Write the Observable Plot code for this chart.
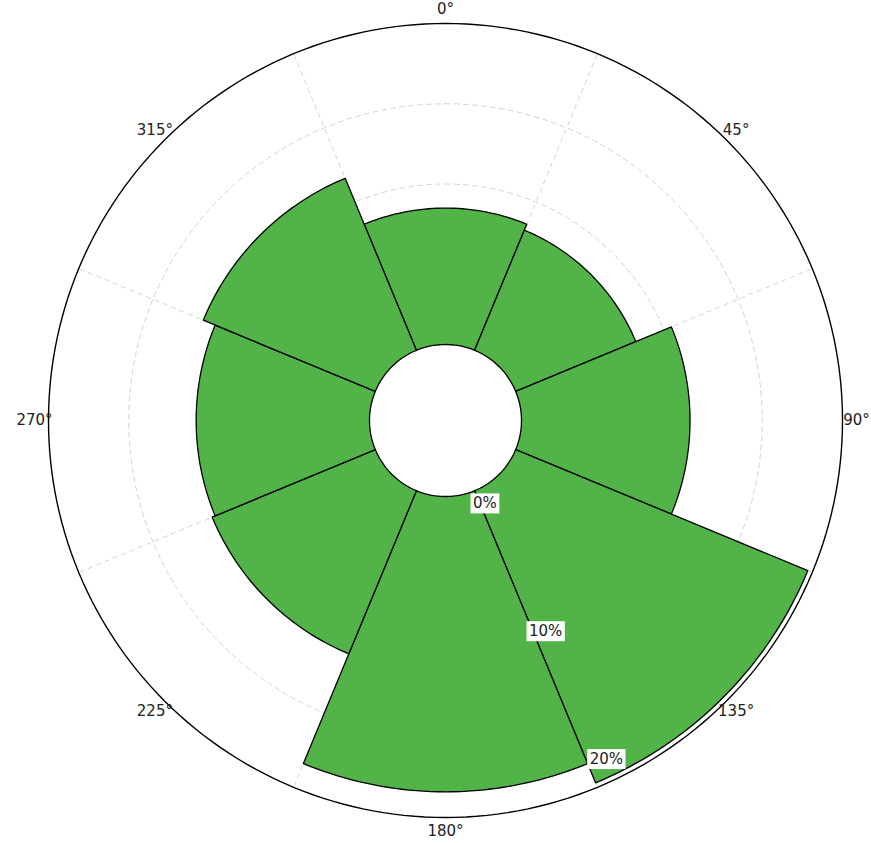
<!DOCTYPE html>
<html>
<head>
<meta charset="utf-8">
<script src="https://cdn.jsdelivr.net/npm/d3@7"></script>
<script src="https://cdn.jsdelivr.net/npm/@observablehq/plot@0.6"></script>
<style>
  html, body { margin: 0; padding: 0; background: #fff; }
  svg { display: block; }
</style>
</head>
<body>
<div id="chart"></div>
<script>
// ---- data ----
const directions = [0, 45, 90, 135, 180, 225, 270, 315];
const frequency = [8.5, 8.1, 10.5, 19.7, 18.4, 11.0, 10.8, 11.6]; // % per sector
const directionLabels = ["0°", "45°", "90°", "135°", "180°", "225°", "270°", "315°"];
const gridValues = [5, 10, 15];
const radialTickValues = [0, 10, 20];
const radialTickLabels = ["0%", "10%", "20%"];
const maxValue = 20;

// ---- geometry helpers (radius units: value + hole offset) ----
const HOLE = 4.735;          // empty centre, in % units
const OUTER = HOLE + maxValue;
const rad = a => a * Math.PI / 180;
const px = (r, a) => r * Math.sin(rad(a));
const py = (r, a) => r * Math.cos(rad(a));
const arc = (r, a0, a1, n, key) => d3.range(n + 1).map(k => {
  const a = a0 + (a1 - a0) * k / n;
  return {x: px(r, a), y: py(r, a), key};
});

const sectors = directions.flatMap((d, i) => {
  const outer = arc(HOLE + frequency[i], d - 22.5, d + 22.5, 40, d);
  const inner = arc(HOLE, d + 22.5, d - 22.5, 20, d);
  return [...outer, ...inner];
});
const gridCircles = gridValues.flatMap(v => arc(HOLE + v, 0, 360, 180, v));
const outerCircle = arc(OUTER, 0, 360, 240, "outer");
const spokeAngles = directions.map(d => d + 22.5);

const dirLabelR = 411 / 16.05;
const labelR = v => (92 + v * 14.15) / 16.05;   // placement of % labels along the spoke
const labelA = 154.6;

const green = "#51b348";

const chart = Plot.plot({
  width: 871,
  height: 843,
  margin: 0,
  x: {domain: [-OUTER, OUTER], range: [445 - 397, 445 + 397], axis: null},
  y: {domain: [-OUTER, OUTER], range: [420 + 397, 420 - 397], axis: null},
  style: {fontFamily: "DejaVu Sans, sans-serif", fontSize: "15px", background: "white"},
  marks: [
    Plot.line(gridCircles, {x: "x", y: "y", z: "key", stroke: "#d4d4d4", strokeWidth: 1, strokeDasharray: "5,4"}),
    Plot.link(spokeAngles, {
      x1: a => px(HOLE, a), y1: a => py(HOLE, a),
      x2: a => px(OUTER, a), y2: a => py(OUTER, a),
      stroke: "#d4d4d4", strokeWidth: 1, strokeDasharray: "5,4"
    }),
    Plot.line(outerCircle, {x: "x", y: "y", z: "key", stroke: "black", strokeWidth: 1.4}),
    Plot.line(sectors, {x: "x", y: "y", z: "key", fill: green, stroke: "black", strokeWidth: 1.3, curve: "linear-closed"}),
    Plot.text(directions, {
      x: d => px(dirLabelR, d), y: d => py(dirLabelR, d),
      text: (d, i) => directionLabels[i], fill: "#222", fontSize: 15
    }),
    Plot.text(radialTickValues, {
      x: v => px(labelR(v), labelA), y: v => py(labelR(v), labelA),
      text: (v, i) => radialTickLabels[i], fill: "#222", fontSize: 15
    })
  ]
});

document.getElementById("chart").appendChild(chart);

// white boxes behind the % labels
chart.querySelectorAll("text").forEach(t => {
  if (!/%$/.test(t.textContent)) return;
  const b = t.getBBox();
  const r = document.createElementNS("http://www.w3.org/2000/svg", "rect");
  r.setAttribute("x", b.x - 2.5);
  r.setAttribute("y", b.y - 1);
  r.setAttribute("width", b.width + 5);
  r.setAttribute("height", b.height + 2);
  r.setAttribute("fill", "white");
  r.setAttribute("stroke", "none");
  if (t.getAttribute("transform")) r.setAttribute("transform", t.getAttribute("transform"));
  t.parentNode.insertBefore(r, t);
});
</script>
</body>
</html>
